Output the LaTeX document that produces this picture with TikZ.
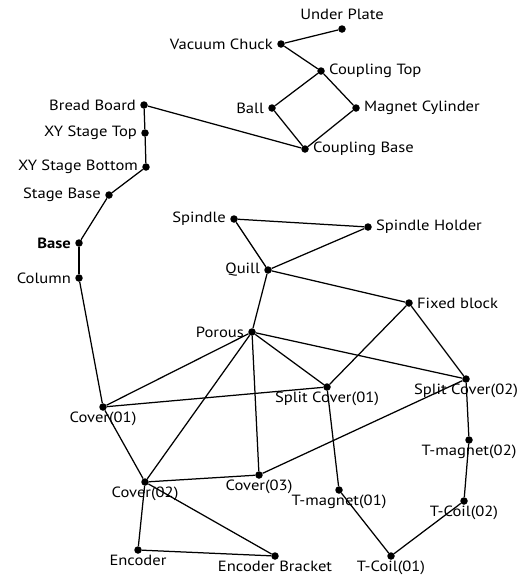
\documentclass[tikz,border=0pt]{standalone}
\usepackage{fontspec}
\setmainfont[FakeStretch=1.12]{PT Sans}
\begin{document}
\begin{tikzpicture}[x=1pt,y=1pt,
  dot/.style={circle,fill=black,inner sep=0pt,minimum size=7.5pt},
  lbl/.style={inner sep=0pt,font=\fontsize{14.8}{16}\selectfont,text=black},
  edge/.style={draw=black,line width=1.25pt},
  label distance=4pt]
\useasboundingbox (0,0) rectangle (528,-576);

% upper chuck / coupling group
\node[dot,label={[lbl,label distance=5pt]above:Under Plate}] (under) at (342,-29) {};
\node[dot,label={[lbl]left:Vacuum Chuck}] (vacuum) at (281,-44) {};
\node[dot,label={[lbl]right:Coupling Top}] (ctop) at (321,-71) {};
\node[dot,label={[lbl]left:Ball}] (ball) at (272,-108) {};
\node[dot,label={[lbl]right:Magnet Cylinder}] (magcyl) at (356,-108) {};
\node[dot,label={[lbl]right:Coupling Base}] (cbase) at (305,-149) {};

% stage column on the left
\node[dot,label={[lbl]left:Bread Board}] (bread) at (144,-105) {};
\node[dot,label={[lbl]left:XY Stage Top}] (xytop) at (145,-133) {};
\node[dot,label={[lbl]left:XY Stage Bottom}] (xybot) at (146,-167) {};
\node[dot,label={[lbl]left:Stage Base}] (stagebase) at (109,-195) {};
\node[dot,label={[lbl]left:\textbf{Base}}] (base) at (79,-243) {};
\node[dot,label={[lbl]left:Column}] (column) at (79,-278) {};

% spindle group
\node[dot,label={[lbl]left:Spindle}] (spindle) at (234,-219) {};
\node[dot,label={[lbl]right:Spindle Holder}] (holder) at (368,-227) {};
\node[dot,label={[lbl]left:Quill}] (quill) at (268,-270) {};
\node[dot,label={[lbl]right:Fixed block}] (fixed) at (409,-303) {};
\node[dot,label={[lbl]left:Porous}] (porous) at (252,-332) {};

% covers
\node[dot,label={[lbl,label distance=0.5pt]below:Cover(01)}] (cover01) at (103,-407) {};
\node[dot,label={[lbl,label distance=0.5pt]below:Cover(02)}] (cover02) at (145,-482) {};
\node[dot,label={[lbl,label distance=0.5pt]below:Cover(03)}] (cover03) at (259,-475) {};
\node[dot,label={[lbl,label distance=0.5pt]below:Split Cover(01)}] (split01) at (327,-387) {};
\node[dot,label={[lbl,label distance=0.5pt]below:Split Cover(02)}] (split02) at (466,-379) {};

% magnets and coils
\node[dot,label={[lbl,label distance=0.5pt]below:T-magnet(02)}] (tmag02) at (469,-440) {};
\node[dot,label={[lbl,label distance=0.5pt]below:T-magnet(01)}] (tmag01) at (339,-490) {};
\node[dot,label={[lbl,label distance=0.5pt]below:T-Coil(02)}] (tcoil02) at (464,-501) {};
\node[dot,label={[lbl,label distance=0.5pt]below:T-Coil(01)}] (tcoil01) at (391,-556) {};

% encoder
\node[dot,label={[lbl,label distance=0.5pt]below:Encoder}] (encoder) at (138,-550) {};
\node[dot,label={[lbl,label distance=0.5pt]below:Encoder Bracket}] (bracket) at (275,-556) {};

% connections
\draw[edge] (under) -- (vacuum);
\draw[edge] (vacuum) -- (ctop);
\draw[edge] (ctop) -- (ball);
\draw[edge] (ctop) -- (magcyl);
\draw[edge] (ball) -- (cbase);
\draw[edge] (magcyl) -- (cbase);
\draw[edge] (cbase) -- (bread);
\draw[edge] (bread) -- (xytop);
\draw[edge] (xytop) -- (xybot);
\draw[edge] (xybot) -- (stagebase);
\draw[edge] (stagebase) -- (base);
\draw[edge] (base) -- (column);
\draw[edge] (column) -- (cover01);
\draw[edge] (spindle) -- (holder);
\draw[edge] (spindle) -- (quill);
\draw[edge] (holder) -- (quill);
\draw[edge] (quill) -- (fixed);
\draw[edge] (quill) -- (porous);
\draw[edge] (fixed) -- (split01);
\draw[edge] (fixed) -- (split02);
\draw[edge] (porous) -- (cover01);
\draw[edge] (porous) -- (cover02);
\draw[edge] (porous) -- (cover03);
\draw[edge] (porous) -- (split01);
\draw[edge] (porous) -- (split02);
\draw[edge] (cover01) -- (split01);
\draw[edge] (cover01) -- (cover02);
\draw[edge] (cover02) -- (cover03);
\draw[edge] (cover03) -- (split02);
\draw[edge] (cover02) -- (encoder);
\draw[edge] (cover02) -- (bracket);
\draw[edge] (encoder) -- (bracket);
\draw[edge] (split01) -- (tmag01);
\draw[edge] (tmag01) -- (tcoil01);
\draw[edge] (tcoil01) -- (tcoil02);
\draw[edge] (tcoil02) -- (tmag02);
\draw[edge] (tmag02) -- (split02);
\end{tikzpicture}
\end{document}
